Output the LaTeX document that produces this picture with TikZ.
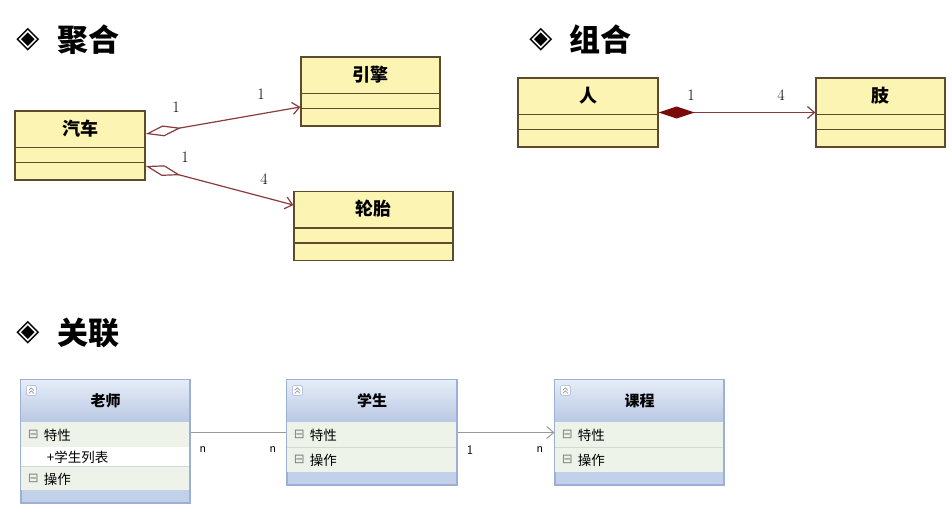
\documentclass[tikz,border=0pt]{standalone}
\usepackage{fontspec}
\newfontfamily\cjk{Noto Sans CJK SC}
\newfontfamily\symb{DejaVu Sans}
\usetikzlibrary{arrows.meta}

\definecolor{yfill}{HTML}{FBF4B2}
\definecolor{ybrd}{HTML}{5E4B2E}
\definecolor{aline}{HTML}{8A3A3E}
\definecolor{cdark}{HTML}{7A0A0A}
\definecolor{bbrd}{HTML}{9CB0D6}
\definecolor{btop}{HTML}{E6EDF7}
\definecolor{bbot}{HTML}{B8C7E3}
\definecolor{brow}{HTML}{EEF3EA}
\definecolor{bsep}{HTML}{D3DAD3}
\definecolor{bfoot}{HTML}{C3D0EA}
\definecolor{gline}{HTML}{9A9A9A}

\tikzset{
  heading/.style={font=\cjk\bfseries\fontsize{31}{34}\selectfont},
  headmark/.style={font=\symb\bfseries\fontsize{30}{32}\selectfont},
  ybox/.style={draw=ybrd, fill=yfill, line width=1.3pt, inner sep=0pt, minimum height=69},
  yname/.style={font=\cjk\bfseries\fontsize{18}{20}\selectfont},
  mult/.style={font=\fontsize{16}{18}\selectfont},
  agg/.style={aline, line width=1.2pt, {Diamond[open,length=36pt,width=11pt]}-{Straight Barb[length=7pt,width=12pt]}},
  comp/.style={aline, line width=1.2pt, {Diamond[fill=cdark,color=cdark,length=36pt,width=12pt]}-{Straight Barb[length=7pt,width=12pt]}},
  bbox/.style={draw=bbrd, fill=bfoot, line width=1.2pt, inner sep=0pt},
  bname/.style={font=\cjk\bfseries\fontsize{15}{17}\selectfont},
  bitem/.style={font=\cjk\fontsize{13.5}{15}\selectfont, anchor=west},
  bicon/.style={font=\symb\fontsize{13}{15}\selectfont, text=gray, anchor=west},
  nlabel/.style={font=\sffamily\fontsize{13}{15}\selectfont},
}

\begin{document}
\begin{tikzpicture}[x=1pt,y=-1pt]
\useasboundingbox (0,0) rectangle (952,514);

% headings
\node[headmark] (m1) at (28,40) {◈};
\node[heading] (h1) at (88,40) {聚合};
\node[headmark] (m2) at (541,40) {◈};
\node[heading] (h2) at (600,40) {组合};
\node[headmark] (m3) at (28,333) {◈};
\node[heading] (h3) at (88,333) {关联};

% aggregation / composition classes
\node[ybox, minimum width=130] (car) at (80,145.5) {};
\node[ybox, minimum width=139] (engine) at (370.5,91.5) {};
\node[ybox, minimum width=159] (tyre) at (373.5,226) {};
\node[ybox, minimum width=140] (person) at (588,112.5) {};
\node[ybox, minimum width=129] (limb) at (880.5,112.5) {};
\foreach \c in {car,engine,tyre,person,limb} {
  \draw[ybrd, line width=1.3pt] ([yshift=-37pt]\c.north west) -- ([yshift=-37pt]\c.north east);
  \draw[ybrd, line width=1.3pt] ([yshift=-52pt]\c.north west) -- ([yshift=-52pt]\c.north east);
}
\node[yname] (carname) at ([yshift=-18pt]car.north) {汽车};
\node[yname] (enginename) at ([yshift=-18pt]engine.north) {引擎};
\node[yname] (tyrename) at ([yshift=-18pt]tyre.north) {轮胎};
\node[yname] (personname) at ([yshift=-18pt]person.north) {人};
\node[yname] (limbname) at ([yshift=-18pt]limb.north) {肢};

\draw[agg] ([yshift=11.5pt]car.east) -- ([yshift=-15.5pt]engine.west);
\draw[agg] ([yshift=-20.5pt]car.east) -- ([yshift=21pt]tyre.west);
\draw[comp] (person.east) -- (limb.west);

\node[mult] (m11) at (176,107) {1};
\node[mult] (m12) at (261,94) {1};
\node[mult] (m21) at (185,157) {1};
\node[mult] (m22) at (264,179) {4};
\node[mult] (m31) at (691,95) {1};
\node[mult] (m32) at (781,95) {4};

% association classes
\node[bbox, minimum width=169, minimum height=123] (teacher) at (105.5,441.5) {};
\node[bbox, minimum width=170, minimum height=105] (student) at (372,432.5) {};
\node[bbox, minimum width=169, minimum height=105] (course) at (639.5,432.5) {};
\foreach \c/\w in {teacher/169,student/170,course/169} {
  \shade[top color=btop, bottom color=bbot] ([shift={(0.6,0.6)}]\c.north west) rectangle ++(\w-1.2,42.4);
  \fill[brow] ([yshift=-43pt]\c.north west) ++(0.6,0) rectangle ++(\w-1.2,50);
  \draw[bsep] ([yshift=-68pt]\c.north west) ++(0.6,0) -- ++(\w-1.2,0);
  \draw[bbrd, fill=white, rounded corners=1.5pt] ([shift={(6,6)}]\c.north west) rectangle ++(10,10);
  \draw[gray, line width=0.6pt] ([shift={(8.5,11)}]\c.north west) -- ++(2.5,-2.5) -- ++(2.5,2.5)
    ([shift={(8.5,14)}]\c.north west) -- ++(2.5,-2.5) -- ++(2.5,2.5);
  \draw[bbrd, line width=1.2pt] (\c.north west) rectangle (\c.south east);
}
% extra attribute row of teacher
\fill[white] ([yshift=-68pt]teacher.north west) ++(0.6,0) rectangle ++(167.8,19);
\fill[brow] ([yshift=-87pt]teacher.north west) ++(0.6,0) rectangle ++(167.8,24);
\draw[bsep] ([yshift=-87pt]teacher.north west) ++(0.6,0) -- ++(167.8,0);
\draw[bbrd, line width=1.2pt] (teacher.north west) rectangle (teacher.south east);

\node[bname] (teachername) at ([yshift=-21pt]teacher.north) {老师};
\node[bname] (studentname) at ([yshift=-21pt]student.north) {学生};
\node[bname] (coursename) at ([yshift=-21pt]course.north) {课程};

\foreach \c in {teacher,student,course} {
  \node[bicon] (\c i1) at ([shift={(4,55.5)}]\c.north west) {⊟};
  \node[bitem] (\c a1) at ([shift={(20,55.5)}]\c.north west) {特性};
}
\node[bitem] (teachera2) at ([shift={(23,77.5)}]teacher.north west) {+学生列表};
\node[bicon] (teacheri3) at ([shift={(4,99.5)}]teacher.north west) {⊟};
\node[bitem] (teachera3) at ([shift={(20,99.5)}]teacher.north west) {操作};
\foreach \c in {student,course} {
  \node[bicon] (\c i2) at ([shift={(4,80.5)}]\c.north west) {⊟};
  \node[bitem] (\c a2) at ([shift={(20,80.5)}]\c.north west) {操作};
}

\draw[gline, line width=1pt] (student.west -| teacher.east) -- (student.west);
\draw[gline, line width=1pt, -{Straight Barb[length=7pt,width=12pt]}] (student.east) -- (course.west);

\node[nlabel] (n1) at (203,450) {n};
\node[nlabel] (n2) at (273,450) {n};
\node[nlabel] (n3) at (470,450) {1};
\node[nlabel] (n4) at (540,450) {n};
\end{tikzpicture}
\end{document}
